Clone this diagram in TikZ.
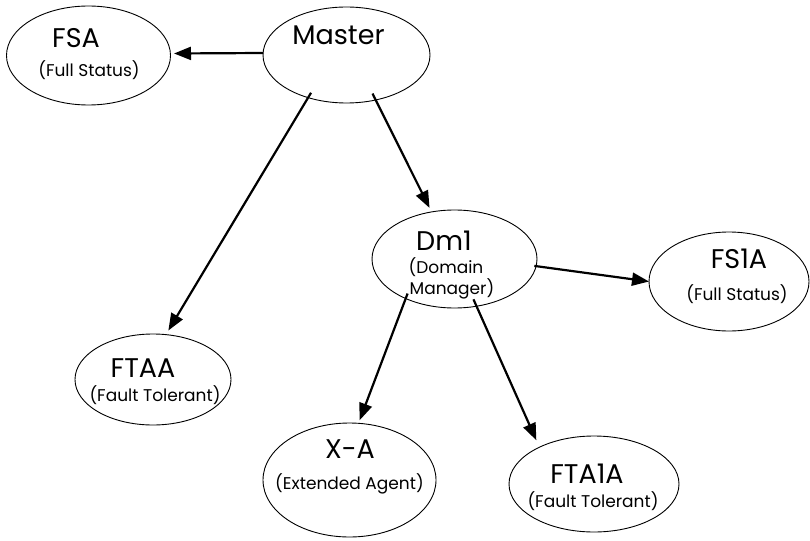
\documentclass[tikz,border=0pt]{standalone}
\usepackage{fontspec}
\setmainfont{Poppins}
\usetikzlibrary{shapes.geometric,arrows.meta}
\tikzset{
  agent/.style={draw, ellipse, line width=0.9pt, inner sep=0pt, outer sep=0pt},
  title/.style={anchor=base, inner sep=0pt, font=\fontsize{27}{27}\selectfont},
  sub/.style={anchor=base, inner sep=0pt, font=\fontsize{17}{17}\selectfont},
  link/.style={line width=2.2pt, -{Triangle[length=17pt,width=13pt]}}
}
\begin{document}
\begin{tikzpicture}[x=1pt,y=-1pt]
\useasboundingbox (0,0) rectangle (810,540);
% ellipses
\node[agent, minimum width=164pt, minimum height=99pt] (fsa) at (88.5,55.5) {};
\node[agent, minimum width=167pt, minimum height=96pt] (master) at (346.5,55) {};
\node[agent, minimum width=165pt, minimum height=98pt] (dm) at (454.5,259) {};
\node[agent, minimum width=160pt, minimum height=99pt] (fs1a) at (729,281.5) {};
\node[agent, minimum width=156pt, minimum height=91pt] (ftaa) at (153,379.5) {};
\node[agent, minimum width=173pt, minimum height=114pt] (xa) at (349.5,480) {};
\node[agent, minimum width=170pt, minimum height=96pt] (fta1a) at (594,484) {};
% texts
\node[title] (tfsa) at (76,48) {FSA};
\node[sub] (sfsa) at (89,77) {(Full Status)};
\node[title] (tmaster) at (338.5,45) {Master};
\node[title] (tdm) at (444,250) {Dm1};
\node[sub] (sdm1) at (446,273) {(Domain};
\node[sub] (sdm2) at (452,294) {Manager)};
\node[title] (tfs1a) at (739,268) {FS1A};
\node[sub] (sfs1a) at (737,300) {(Full Status)};
\node[title] (tftaa) at (143,377) {FTAA};
\node[sub] (sftaa) at (155,401) {(Fault Tolerant)};
\node[title] (txa) at (350,458) {X-A};
\node[sub] (sxa) at (349.5,489) {(Extended Agent)};
\node[title] (tfta1a) at (587,483) {FTA1A};
\node[sub] (sfta1a) at (593,507) {(Fault Tolerant)};
% connectors
\draw[link] ([yshift=2pt]master.west) -- ([yshift=2pt,xshift=3.5pt]fsa.east);
\draw[link, shorten <=-5.7pt, shorten >=4.8pt] (master.228.6) -- (ftaa.74.2);
\draw[link, shorten <=-7.2pt, shorten >=4.5pt] (master.303.3) -- (dm.116.6);
\draw[link, shorten <=-1.8pt] (dm.355.2) -- (fs1a.180.4);
\draw[link, shorten <=-5.3pt, shorten >=3.3pt] (dm.219.3) -- (xa.81);
\draw[link, shorten <=-7.5pt, shorten >=7.6pt] (dm.295.3) -- (fta1a.146.1);
\end{tikzpicture}
\end{document}
